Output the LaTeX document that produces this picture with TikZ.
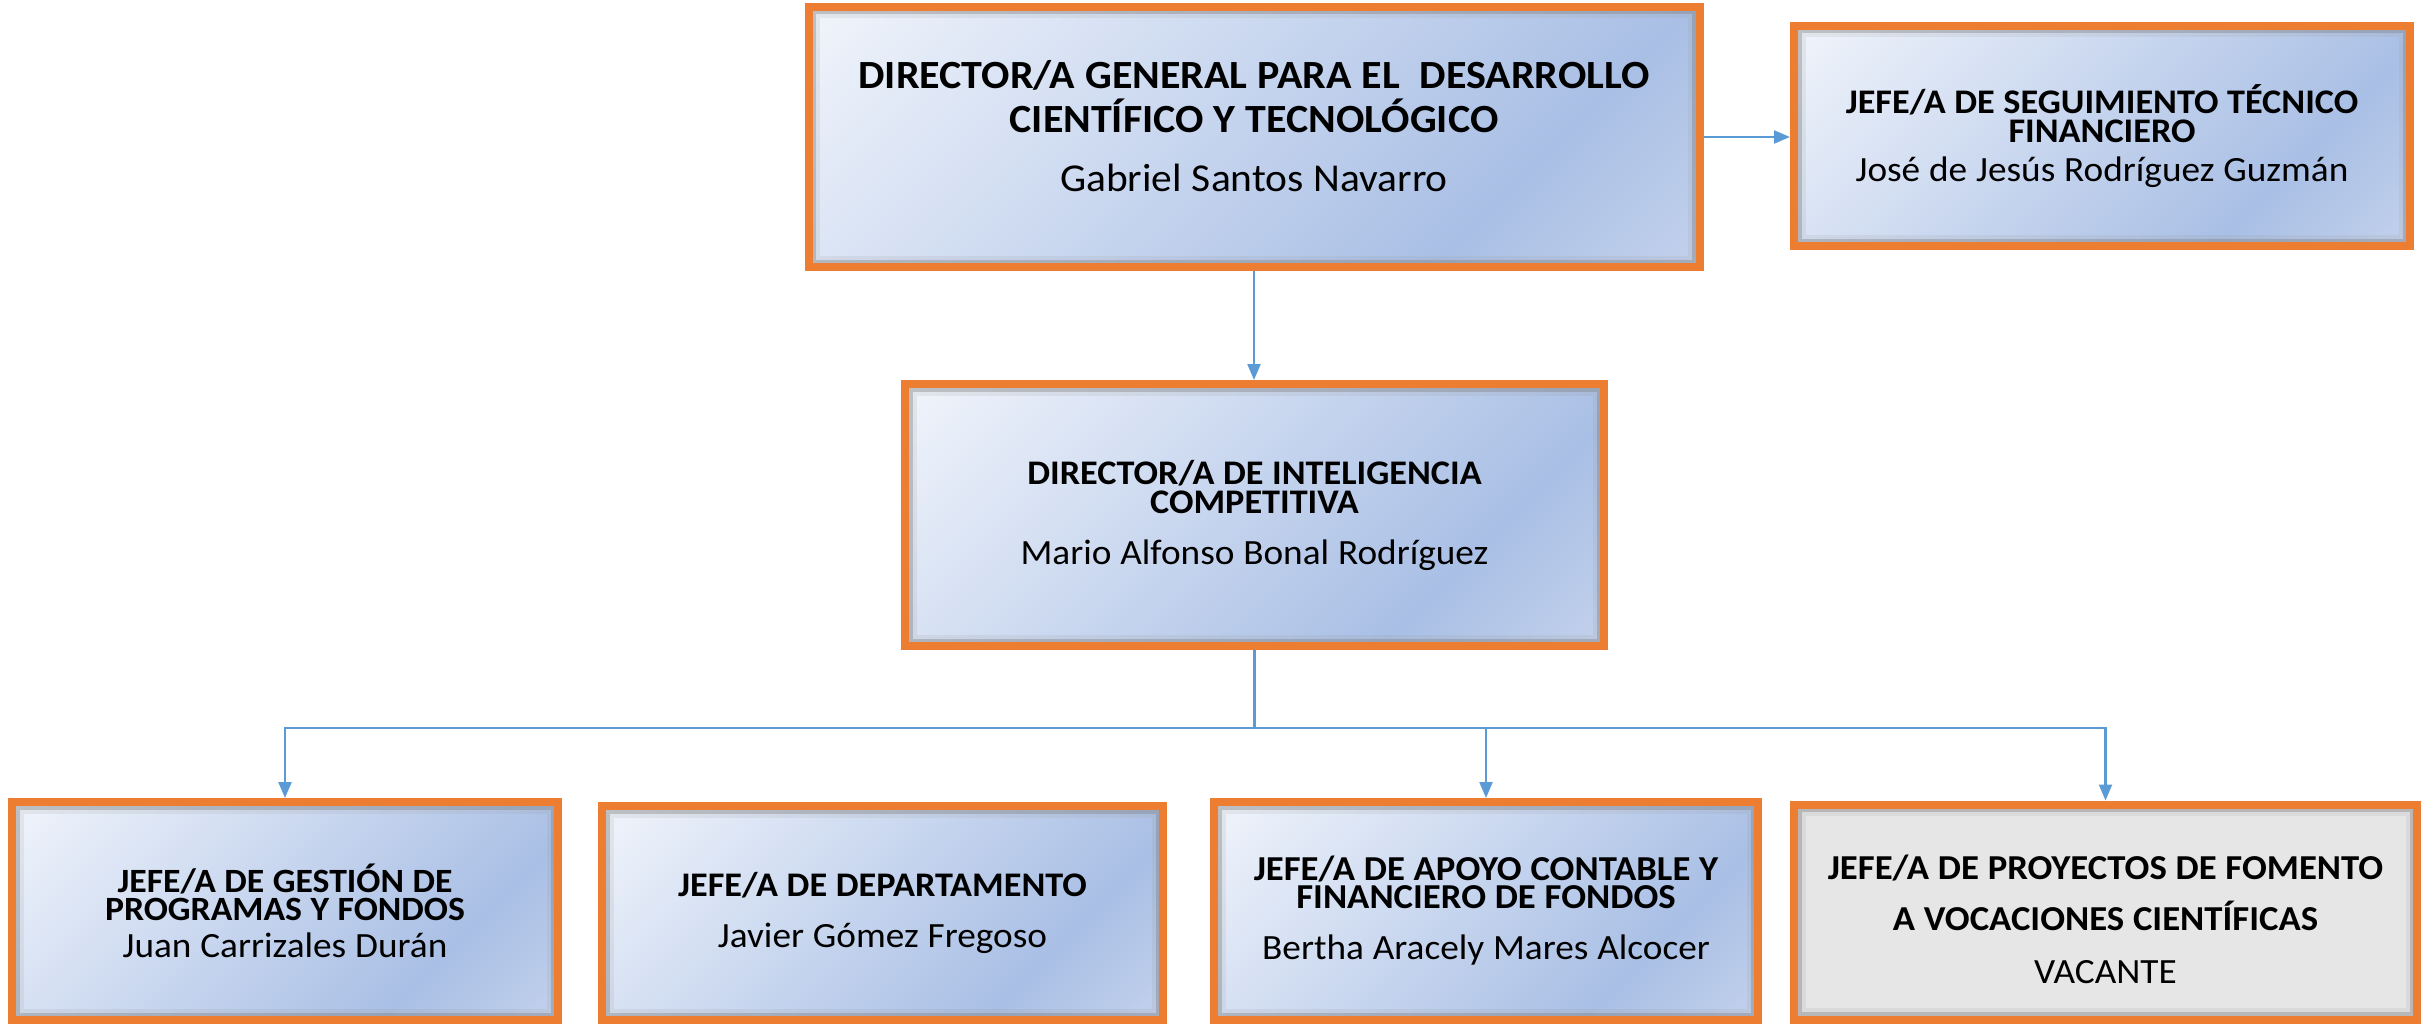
\documentclass[tikz,border=0pt]{standalone}
\usepackage{fontspec}
\setmainfont{Carlito}[FakeStretch=1.05]
\usetikzlibrary{arrows.meta,calc}
\definecolor{boxorange}{HTML}{ED7D31}
\definecolor{linkblue}{HTML}{5B9BD5}
\definecolor{gA}{HTML}{F0F4FB}
\definecolor{gB}{HTML}{A9BFE5}
\definecolor{gC}{HTML}{C2D1EC}
\definecolor{vacgray}{HTML}{E6E6E6}
\pgfdeclareverticalshading{boxsh}{100bp}{color(0bp)=(gC); color(15bp)=(gC); color(31bp)=(gB); color(85bp)=(gA); color(100bp)=(gA)}
\newcommand\boxtitle[2]{\bfseries\fontsize{#1}{#2}\selectfont\spaceskip=0.25em\relax}
\newcommand\boxname[2]{\mdseries\fontsize{#1}{#2}\selectfont\spaceskip=0.25em\relax}
\tikzset{
  orgbox/.style={draw=boxorange, line width=8pt, inner sep=0pt, align=center,
    path picture={\draw[black!55, line width=15pt, opacity=0.35]
      (path picture bounding box.north west) rectangle (path picture bounding box.south east);
      \draw[black!40, line width=23pt, opacity=0.15]
      (path picture bounding box.north west) rectangle (path picture bounding box.south east);}},
  bluebox/.style={orgbox, shade, shading=boxsh, shading angle=45},
  graybox/.style={orgbox, fill=vacgray},
  link/.style={draw=linkblue, line width=2.3pt},
  arr/.style={link, -{Triangle[length=16pt,width=13pt]}}
}
\begin{document}
\begin{tikzpicture}[x=1pt,y=-1pt]
\useasboundingbox (0,0) rectangle (2425,1027);
\node[bluebox, minimum width=891pt, minimum height=260pt, text width=870pt] (dg) at (1254,137)
  {\boxtitle{40}{44}DIRECTOR/A GENERAL PARA EL \ DESARROLLO\\CIENTÍFICO Y TECNOLÓGICO\par
   \boxname{39.5}{59}Gabriel Santos Navarro\rule[-22pt]{0pt}{1pt}\par};
\node[bluebox, minimum width=616pt, minimum height=220pt, text width=590pt] (st) at (2102,136)
  {\boxtitle{34.5}{29}JEFE/A DE SEGUIMIENTO TÉCNICO\\FINANCIERO\par
   \boxname{35.5}{39}José de Jesús Rodríguez Guzmán\par};
\node[bluebox, minimum width=699pt, minimum height=262pt, text width=670pt] (ic) at (1254.5,515)
  {\boxtitle{34.5}{29}DIRECTOR/A DE INTELIGENCIA\\COMPETITIVA\par
   \boxname{35.5}{51}Mario Alfonso Bonal Rodríguez\par};
\node[bluebox, minimum width=546pt, minimum height=218pt, text width=520pt] (gp) at (285,911)
  {\boxtitle{34}{28}JEFE/A DE GESTIÓN DE\\PROGRAMAS Y FONDOS\par
   \boxname{35.5}{37}Juan Carrizales Durán\par};
\node[bluebox, minimum width=561pt, minimum height=214pt, text width=530pt] (dp) at (882.5,913)
  {\boxtitle{34.5}{28}JEFE/A DE DEPARTAMENTO\par
   \boxname{35.5}{51}Javier Gómez Fregoso\par};
\node[bluebox, minimum width=544pt, minimum height=218pt, text width=520pt] (ac) at (1486,911)
  {\boxtitle{35}{28}JEFE/A DE APOYO CONTABLE Y\\FINANCIERO DE FONDOS\par
   \boxname{35.5}{51}Bertha Aracely Mares Alcocer\par};
\node[graybox, minimum width=623pt, minimum height=215pt, text width=600pt] (pf) at (2105.5,912)
  {\boxtitle{35}{51}\rule{0pt}{40pt}JEFE/A DE PROYECTOS DE FOMENTO\\A VOCACIONES CIENTÍFICAS\par
   \boxname{35.5}{53}VACANTE\par};
\draw[arr] (dg.south) -- (dg.south |- ic.north);
\draw[arr] (dg.east) -- (dg.east -| st.west);
\draw[link] (ic.south) -- ++(0,78) coordinate (j);
\draw[arr] (j) -| (gp.north);
\draw[arr] (j) -| (ac.north);
\draw[arr] (j) -| (pf.north);
\end{tikzpicture}
\end{document}
